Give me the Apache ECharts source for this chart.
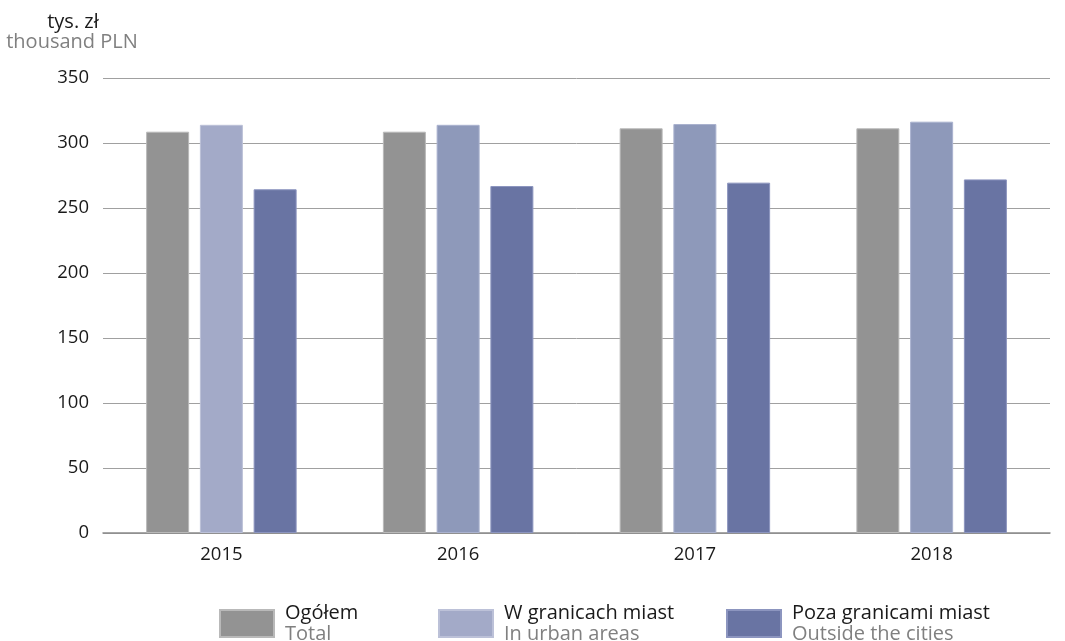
<!DOCTYPE html>
<html>
<head>
<meta charset="utf-8">
<script src="https://cdn.jsdelivr.net/npm/echarts@6/dist/echarts.min.js"></script>
<style>
  html, body { margin: 0; padding: 0; background: #fff; }
  #chart { width: 1065px; height: 641px; }
</style>
</head>
<body>
<div id="chart"></div>
<script>
// dane
var years = ['2015', '2016', '2017', '2018'];
var total = [308.7, 308.7, 311.3, 311.3];      // Ogółem
var urban = [314.0, 314.0, 314.6, 316.4];      // W granicach miast
var outside = [264.4, 266.9, 269.5, 272.0];    // Poza granicami miast
var seriesNames = ['Ogółem', 'W granicach miast', 'Poza granicami miast'];
var seriesNamesEn = ['Total', 'In urban areas', 'Outside the cities'];
var yTicks = [0, 50, 100, 150, 200, 250, 300, 350];

var font = '"Open Sans", "Noto Sans", sans-serif';
var colors = ['#939393', '#a3aac8', '#6974a3'];
var borders = ['#b9b9b9', '#bcc1d8', '#8c95bf'];

// od 2016 słupki "W granicach miast" są ciemniejsze
var urbanData = urban.map(function (v, i) {
    if (i > 0) {
        return { value: v, itemStyle: { color: '#8e99ba', borderColor: '#aab2cf' } };
    }
    return v;
});

function legendFor(i, left) {
    return {
        data: [seriesNames[i]],
        left: left,
        top: 598,
        icon: 'rect',
        itemWidth: 54,
        itemHeight: 27,
        selectedMode: false,
        formatter: function (name) {
            return '{a|' + name + '}\n{b|' + seriesNamesEn[seriesNames.indexOf(name)] + '}';
        },
        textStyle: {
            padding: [0, 0, 0, 6],
            rich: {
                a: { color: '#1a1a1a', fontSize: 20, lineHeight: 21, fontFamily: font },
                b: { color: '#808080', fontSize: 20, lineHeight: 21, fontFamily: font }
            }
        }
    };
}

var option = {
    animation: false,
    color: colors,
    grid: { left: 103, right: 15, top: 78, bottom: 108 },
    graphic: [
        {
            type: 'text', x: 73, y: 22,
            style: { text: 'tys. zł', fill: '#1a1a1a', font: '20px ' + font, align: 'center', verticalAlign: 'middle' }
        },
        {
            type: 'text', x: 72, y: 42,
            style: { text: 'thousand PLN', fill: '#808080', font: '20px ' + font, align: 'center', verticalAlign: 'middle' }
        }
    ],
    legend: [legendFor(0, 214), legendFor(1, 433), legendFor(2, 721)],
    xAxis: {
        type: 'category',
        data: years,
        axisTick: { show: false },
        axisLine: { lineStyle: { color: '#8a8a8a', width: 1.5 } },
        axisLabel: { color: '#1a1a1a', fontSize: 18.5, fontFamily: font, margin: 12 }
    },
    yAxis: {
        type: 'value',
        min: yTicks[0],
        max: yTicks[yTicks.length - 1],
        interval: 50,
        axisLine: { show: false },
        axisTick: { show: false },
        splitLine: { lineStyle: { color: '#a0a0a0', width: 1 } },
        axisLabel: { color: '#1a1a1a', fontSize: 18.5, fontFamily: font, margin: 14 }
    },
    series: [
        {
            name: seriesNames[0], type: 'bar', data: total,
            barWidth: 43, barGap: '25%',
            itemStyle: { color: colors[0], borderColor: borders[0], borderWidth: 1 }
        },
        {
            name: seriesNames[1], type: 'bar', data: urbanData,
            barWidth: 43, barGap: '25%',
            itemStyle: { color: colors[1], borderColor: borders[1], borderWidth: 1 }
        },
        {
            name: seriesNames[2], type: 'bar', data: outside,
            barWidth: 43, barGap: '25%',
            itemStyle: { color: colors[2], borderColor: borders[2], borderWidth: 1 }
        }
    ]
};

var myChart = echarts.init(document.getElementById('chart'));
myChart.setOption(option);
</script>
</body>
</html>
